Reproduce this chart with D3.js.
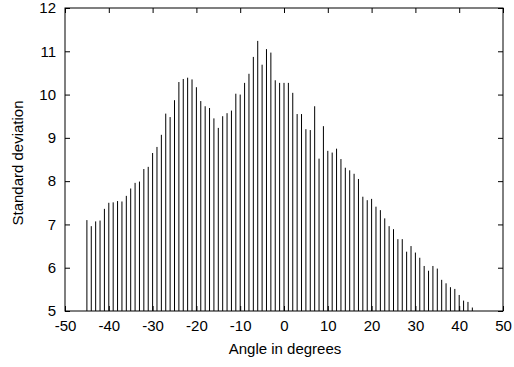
<!DOCTYPE html>
<html>
<head>
<meta charset="utf-8">
<script src="https://cdn.jsdelivr.net/npm/d3@7"></script>
<style>
  body { margin: 0; background: #fff; }
  text { font-family: "Liberation Sans", Arial, sans-serif; font-size: 15px; fill: #000; }
</style>
</head>
<body>
<svg id="chart" width="514" height="367"></svg>
<script>
// angle in degrees, one impulse per integer angle
const angles = d3.range(-45, 44);
const stdDev = [
  7.10, 6.96, 7.07, 7.09, 7.36, 7.50, 7.51, 7.54, 7.53, 7.66,
  7.83, 7.96, 7.99, 8.28, 8.33, 8.65, 8.79, 9.07, 9.56, 9.48,
  9.87, 10.29, 10.36, 10.39, 10.35, 10.17, 9.85, 9.73, 9.69, 9.45,
  9.23, 9.50, 9.57, 9.63, 10.02, 10.00, 10.27, 10.48, 10.87, 11.24,
  10.69, 11.05, 10.97, 10.33, 10.27, 10.27, 10.27, 10.04, 9.55, 9.55,
  9.20, 9.18, 9.73, 8.52, 9.27, 8.70, 8.66, 8.75, 8.51, 8.31,
  8.25, 8.17, 8.05, 7.64, 7.56, 7.59, 7.41, 7.33, 7.14, 6.96,
  6.89, 6.66, 6.66, 6.37, 6.50, 6.35, 6.23, 6.04, 5.93, 6.04,
  5.98, 5.72, 5.64, 5.55, 5.51, 5.37, 5.24, 5.21, 5.08
];
const xTicks = d3.range(-50, 51, 10);
const yTicks = d3.range(5, 13, 1);

const plotLeft = 65, plotRight = 503, plotTop = 8, plotBottom = 311;
const tick = 5;

const svg = d3.select("#chart");

const x = d3.scaleLinear().domain([-50, 50]).range([plotLeft, plotRight]);
const y = d3.scaleLinear().domain([5, 12]).range([plotBottom, plotTop]);

// impulses
svg.append("g")
  .selectAll("line")
  .data(angles)
  .enter()
  .append("line")
  .attr("x1", (d) => x(d))
  .attr("x2", (d) => x(d))
  .attr("y1", y(5))
  .attr("y2", (d, i) => y(stdDev[i]))
  .attr("stroke", "#000")
  .attr("stroke-width", 1);

// axes, gnuplot style: ticks inward on all four sides, plain hyphen minus
let plain = (d) => String(d);
let bottomAxis = d3.axisBottom(x).tickValues(xTicks).tickSizeInner(-tick).tickSizeOuter(0).tickPadding(9).tickFormat(plain);
let topAxis = d3.axisTop(x).tickValues(xTicks).tickSizeInner(-tick).tickSizeOuter(0).tickFormat("");
let leftAxis = d3.axisLeft(y).tickValues(yTicks).tickSizeInner(-tick).tickSizeOuter(0).tickPadding(9).tickFormat(plain);
let rightAxis = d3.axisRight(y).tickValues(yTicks).tickSizeInner(-tick).tickSizeOuter(0).tickFormat("");

svg.append("g").attr("transform", `translate(0,${plotBottom})`).call(bottomAxis);
svg.append("g").attr("transform", `translate(0,${plotTop})`).call(topAxis);
svg.append("g").attr("transform", `translate(${plotLeft},0)`).call(leftAxis);
svg.append("g").attr("transform", `translate(${plotRight},0)`).call(rightAxis);

svg.selectAll(".domain").remove();
svg.selectAll(".tick line").attr("stroke", "#000");
svg.selectAll(".tick text")
  .style("font-family", '"Liberation Sans", Arial, sans-serif')
  .style("font-size", "15px")
  .attr("fill", "#000");

// frame
svg.append("rect")
  .attr("x", plotLeft)
  .attr("y", plotTop)
  .attr("width", plotRight - plotLeft)
  .attr("height", plotBottom - plotTop)
  .attr("fill", "none")
  .attr("stroke", "#000")
  .attr("stroke-width", 1);

// labels
svg.append("text")
  .attr("x", 285)
  .attr("y", 354)
  .attr("text-anchor", "middle")
  .text("Angle in degrees");

svg.append("text")
  .attr("transform", "translate(23,163) rotate(-90)")
  .attr("text-anchor", "middle")
  .text("Standard deviation");
</script>
</body>
</html>
